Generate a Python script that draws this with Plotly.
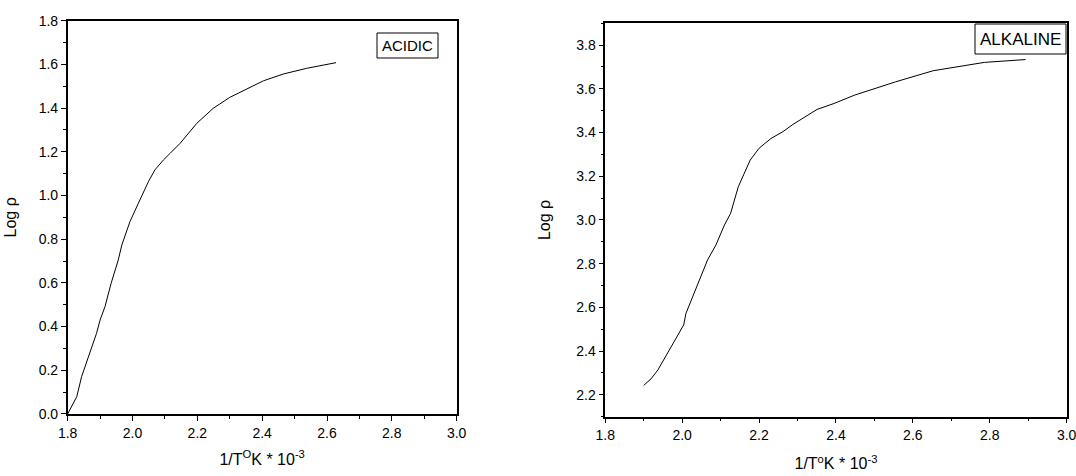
import plotly.graph_objects as go

# Acidic series (1/T * 10^-3, Log rho)
acid_x = [1.800, 1.828, 1.843, 1.869, 1.889, 1.900, 1.915, 1.934, 1.956, 1.967,
          1.992, 2.018, 2.049, 2.069, 2.095, 2.116, 2.147, 2.198, 2.249, 2.300,
          2.342, 2.404, 2.465, 2.537, 2.628]
acid_y = [0.000, 0.079, 0.171, 0.278, 0.369, 0.430, 0.491, 0.598, 0.705, 0.773,
          0.880, 0.964, 1.063, 1.117, 1.162, 1.193, 1.239, 1.330, 1.399, 1.449,
          1.480, 1.525, 1.556, 1.582, 1.608]

# Alkaline series
alk_x = [1.900, 1.919, 1.937, 1.959, 1.981, 2.004, 2.010, 2.030, 2.051, 2.066,
         2.088, 2.110, 2.126, 2.146, 2.177, 2.200, 2.231, 2.262, 2.288, 2.351,
         2.395, 2.448, 2.555, 2.653, 2.786, 2.893]
alk_y = [2.243, 2.273, 2.314, 2.383, 2.451, 2.520, 2.573, 2.657, 2.749, 2.817,
         2.886, 2.977, 3.030, 3.152, 3.274, 3.328, 3.373, 3.404, 3.437, 3.506,
         3.533, 3.571, 3.632, 3.683, 3.721, 3.734]

x_range = [1.8, 3.0]
acid_range = [0.0, 1.8]
alk_range = [2.1, 3.9]

FONT = "Liberation Sans, Arial, sans-serif"
x_title = "1/T<sup>O</sup>K * 10<sup>-3</sup>"
x_title_r = "1/T<sup>o</sup>K * 10<sup>-3</sup>"

fig = go.Figure()
fig.add_trace(go.Scatter(x=acid_x, y=acid_y, mode="lines",
                         line=dict(color="black", width=1), xaxis="x", yaxis="y"))
fig.add_trace(go.Scatter(x=alk_x, y=alk_y, mode="lines",
                         line=dict(color="black", width=1), xaxis="x2", yaxis="y2"))

axis_common = dict(showline=True, linecolor="black", linewidth=1.5, mirror=True,
                   ticks="outside", ticklen=5, tickwidth=1, tickcolor="black",
                   showgrid=False, zeroline=False, ticklabeloverflow="allow",
                   tickfont=dict(family=FONT, size=14, color="black"),
                   minor=dict(ticks="outside", ticklen=3, tickcolor="black", dtick=0.1),
                   automargin=False)

def box(x0, y0, x1, y1):
    return dict(type="rect", xref="paper", yref="paper",
                x0=x0 / 1076, x1=x1 / 1076, y0=1 - y1 / 476, y1=1 - y0 / 476,
                line=dict(color="black", width=1), fillcolor="white", layer="above")

fig.update_layout(
    width=1076, height=476,
    margin=dict(l=0, r=0, t=0, b=0),
    paper_bgcolor="white", plot_bgcolor="white",
    showlegend=False,
    font=dict(family=FONT, color="black"),
    xaxis=dict(domain=[0.0629, 0.4244], range=x_range, dtick=0.2, tick0=1.8,
               tickformat=".1f", anchor="y",
               title=dict(text=x_title, font=dict(family=FONT, size=16), standoff=14),
               **axis_common),
    yaxis=dict(domain=[0.1303, 0.9565], range=acid_range, dtick=0.2, tick0=0,
               tickformat=".1f", anchor="x",
               title=dict(text="Log ρ", font=dict(family=FONT, size=16), standoff=18),
               **axis_common),
    xaxis2=dict(domain=[0.5625, 0.9913], range=x_range, dtick=0.2, tick0=1.8,
                tickformat=".1f", anchor="y2",
                title=dict(text=x_title_r, font=dict(family=FONT, size=16), standoff=16),
                **axis_common),
    yaxis2=dict(domain=[0.1246, 0.9511], range=alk_range, dtick=0.2, tick0=2.2,
                tickformat=".1f", anchor="x2",
                title=dict(text="Log ρ", font=dict(family=FONT, size=16), standoff=22),
                **axis_common),
    shapes=[box(377, 33, 438, 58), box(975, 24, 1066, 54)],
    annotations=[
        dict(text="ACIDIC", xref="paper", yref="paper", x=407.5 / 1076, y=1 - 46 / 476,
             xanchor="center", yanchor="middle", showarrow=False,
             font=dict(family=FONT, size=15, color="black")),
        dict(text="ALKALINE", xref="paper", yref="paper", x=1020.5 / 1076, y=1 - 39.5 / 476,
             xanchor="center", yanchor="middle", showarrow=False,
             font=dict(family=FONT, size=17, color="black")),
    ],
)

fig.write_html("out.html")
